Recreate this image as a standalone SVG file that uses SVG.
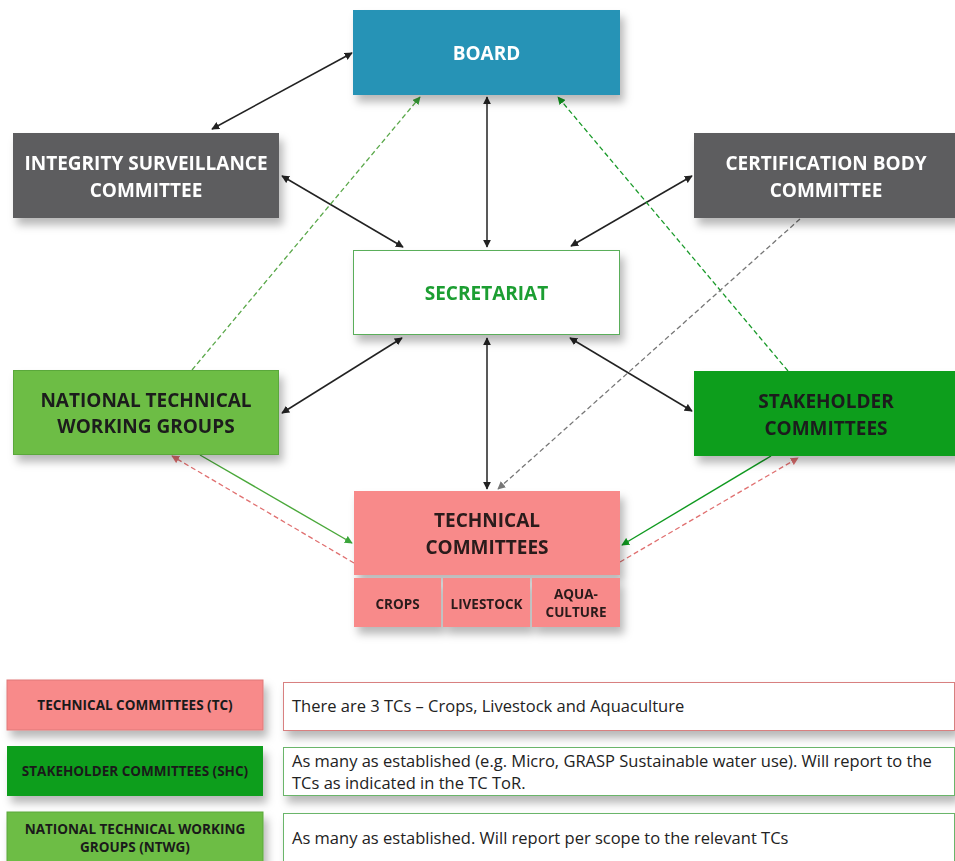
<svg xmlns="http://www.w3.org/2000/svg" width="955" height="861" viewBox="0 0 955 861">
  <style>
    .lbl { font-family: "Open Sans", "Liberation Sans", sans-serif; font-weight: 700; text-anchor: middle; }
    .big { font-size: 19px; }
    .sub { font-size: 13.5px; fill: #2a1a1a; }
    .leg { font-size: 13.5px; fill: #1a1a1a; }
    .desc { font-family: "Open Sans", "Liberation Sans", sans-serif; font-size: 16.5px; fill: #222; }
    .solid { fill: none; stroke: #222; stroke-width: 1.5; }
    .dash { fill: none; stroke-width: 1.3; stroke-dasharray: 5 3; }
  </style>
  <defs>
    <filter id="shadow" x="-10%" y="-10%" width="130%" height="150%">
      <feDropShadow dx="4" dy="7" stdDeviation="4" flood-color="#000" flood-opacity="0.28"/>
    </filter>
    <marker id="ahBlack" viewBox="0 0 10 10" refX="9" refY="5" markerWidth="8" markerHeight="8" orient="auto-start-reverse" markerUnits="userSpaceOnUse">
      <path d="M0,0 L10,5 L0,10 Z" fill="#222"/>
    </marker>
    <marker id="ahGreen" viewBox="0 0 10 10" refX="9" refY="5" markerWidth="8" markerHeight="8" orient="auto" markerUnits="userSpaceOnUse">
      <path d="M0,0 L10,5 L0,10 Z" fill="#3aa53a"/>
    </marker>
    <marker id="ahGreenDark" viewBox="0 0 10 10" refX="9" refY="5" markerWidth="8" markerHeight="8" orient="auto" markerUnits="userSpaceOnUse">
      <path d="M0,0 L10,5 L0,10 Z" fill="#109a20"/>
    </marker>
    <marker id="ahRed" viewBox="0 0 10 10" refX="9" refY="5" markerWidth="8" markerHeight="8" orient="auto" markerUnits="userSpaceOnUse">
      <path d="M0,0 L10,5 L0,10 Z" fill="#e07070"/>
    </marker>
    <marker id="ahGrey" viewBox="0 0 10 10" refX="9" refY="5" markerWidth="8" markerHeight="8" orient="auto" markerUnits="userSpaceOnUse">
      <path d="M0,0 L10,5 L0,10 Z" fill="#777"/>
    </marker>
  </defs>

  <rect width="955" height="861" fill="#fff"/>

  <!-- connectors -->
  <g id="connectors">
    <line class="solid" x1="352" y1="53" x2="212" y2="129" marker-start="url(#ahBlack)" marker-end="url(#ahBlack)"/>
    <line class="solid" x1="487" y1="97" x2="487" y2="247" marker-start="url(#ahBlack)" marker-end="url(#ahBlack)"/>
    <line class="solid" x1="282" y1="176" x2="403" y2="247" marker-start="url(#ahBlack)" marker-end="url(#ahBlack)"/>
    <line class="solid" x1="692" y1="176" x2="571" y2="246" marker-start="url(#ahBlack)" marker-end="url(#ahBlack)"/>
    <line class="solid" x1="402" y1="338" x2="282" y2="413" marker-start="url(#ahBlack)" marker-end="url(#ahBlack)"/>
    <line class="solid" x1="570" y1="338" x2="692" y2="411" marker-start="url(#ahBlack)" marker-end="url(#ahBlack)"/>
    <line class="solid" x1="487" y1="338" x2="487" y2="489" marker-start="url(#ahBlack)" marker-end="url(#ahBlack)"/>

    <line class="dash" stroke="#5aa84a" x1="192" y1="370" x2="420" y2="97" marker-end="url(#ahGreen)"/>
    <line class="dash" stroke="#1a9a2a" x1="788" y1="371" x2="558" y2="97" marker-end="url(#ahGreenDark)"/>
    <line class="dash" stroke="#777" x1="800" y1="219" x2="498" y2="489" marker-end="url(#ahGrey)"/>

    <line fill="none" stroke="#4aa83a" stroke-width="1.4" x1="200" y1="455" x2="352" y2="543" marker-end="url(#ahGreen)"/>
    <line class="dash" stroke="#e07070" x1="354" y1="563" x2="172" y2="456" marker-end="url(#ahRed)"/>
    <line fill="none" stroke="#109a20" stroke-width="1.4" x1="771" y1="456" x2="622" y2="545" marker-end="url(#ahGreenDark)"/>
    <line class="dash" stroke="#e07070" x1="620" y1="562" x2="798" y2="458" marker-end="url(#ahRed)"/>
  </g>

  <!-- nodes -->
  <g id="board" filter="url(#shadow)">
    <rect x="353" y="10" width="267" height="85" fill="#2793b6"/>
    <text class="lbl big" x="486.5" y="60" fill="#fff">BOARD</text>
  </g>

  <g id="integrity" filter="url(#shadow)">
    <rect x="13" y="133" width="266" height="85" fill="#5d5d5f"/>
    <text class="lbl big" x="146" y="170" fill="#fff">INTEGRITY SURVEILLANCE</text>
    <text class="lbl big" x="146" y="197" fill="#fff">COMMITTEE</text>
  </g>

  <g id="certification" filter="url(#shadow)">
    <rect x="694" y="133" width="265" height="85" fill="#5d5d5f"/>
    <text class="lbl big" x="826" y="170" fill="#fff">CERTIFICATION BODY</text>
    <text class="lbl big" x="826" y="197" fill="#fff">COMMITTEE</text>
  </g>

  <g id="secretariat" filter="url(#shadow)">
    <rect x="353.5" y="250.5" width="266" height="84" fill="#fff" stroke="#5aae5a" stroke-width="1"/>
    <text class="lbl big" x="486.5" y="300" fill="#1d9e32">SECRETARIAT</text>
  </g>

  <g id="ntwg" filter="url(#shadow)">
    <rect x="13.5" y="370.5" width="265" height="84" fill="#6dbd45" stroke="#5aa83a" stroke-width="1"/>
    <text class="lbl big" x="146" y="407" fill="#1c1c1c">NATIONAL TECHNICAL</text>
    <text class="lbl big" x="146" y="433" fill="#1c1c1c">WORKING GROUPS</text>
  </g>

  <g id="stakeholder" filter="url(#shadow)">
    <rect x="694" y="371" width="265" height="85" fill="#0b9e1f"/>
    <text class="lbl big" x="826" y="408" fill="#1c1c1c">STAKEHOLDER</text>
    <text class="lbl big" x="826" y="435" fill="#1c1c1c">COMMITTEES</text>
  </g>

  <g id="technical" filter="url(#shadow)">
    <rect x="354" y="491" width="266" height="84" fill="#f88a8a"/>
    <text class="lbl big" x="487" y="527" fill="#2a1a1a">TECHNICAL</text>
    <text class="lbl big" x="487" y="554" fill="#2a1a1a">COMMITTEES</text>
    <rect x="354" y="578" width="87" height="49" fill="#f88a8a"/>
    <rect x="443" y="578" width="87" height="49" fill="#f88a8a"/>
    <rect x="532" y="578" width="88" height="49" fill="#f88a8a"/>
    <text class="lbl sub" x="397.5" y="609">CROPS</text>
    <text class="lbl sub" x="486.5" y="609">LIVESTOCK</text>
    <text class="lbl sub" x="576" y="599">AQUA-</text>
    <text class="lbl sub" x="576" y="617">CULTURE</text>
  </g>

  <!-- legend -->
  <g id="legend-tc">
    <rect x="7" y="680" width="256" height="50" fill="#f88a8a" stroke="#e07878" stroke-width="1" filter="url(#shadow)"/>
    <text class="lbl leg" x="135" y="710">TECHNICAL COMMITTEES (TC)</text>
    <rect x="283.5" y="682.5" width="671" height="48" fill="#fff" stroke="#d88080" stroke-width="1" filter="url(#shadow)"/>
    <text class="desc" x="292" y="712">There are 3 TCs – Crops, Livestock and Aquaculture</text>
  </g>

  <g id="legend-shc">
    <rect x="7" y="746" width="256" height="50" fill="#0b9e1f" filter="url(#shadow)"/>
    <text class="lbl leg" x="135" y="776">STAKEHOLDER COMMITTEES (SHC)</text>
    <rect x="283.5" y="747.5" width="671" height="48" fill="#fff" stroke="#6ab56a" stroke-width="1" filter="url(#shadow)"/>
    <text class="desc" x="292" y="767">As many as established (e.g. Micro, GRASP Sustainable water use). Will report to the</text>
    <text class="desc" x="292" y="789">TCs as indicated in the TC ToR.</text>
  </g>

  <g id="legend-ntwg">
    <rect x="7" y="812" width="256" height="52" fill="#6dbd45" stroke="#5aa83a" stroke-width="1" filter="url(#shadow)"/>
    <text class="lbl leg" x="135" y="834">NATIONAL TECHNICAL WORKING</text>
    <text class="lbl leg" x="135" y="852">GROUPS (NTWG)</text>
    <rect x="283.5" y="813.5" width="671" height="50" fill="#fff" stroke="#6ab56a" stroke-width="1" filter="url(#shadow)"/>
    <text class="desc" x="292" y="844">As many as established. Will report per scope to the relevant TCs</text>
  </g>
</svg>
